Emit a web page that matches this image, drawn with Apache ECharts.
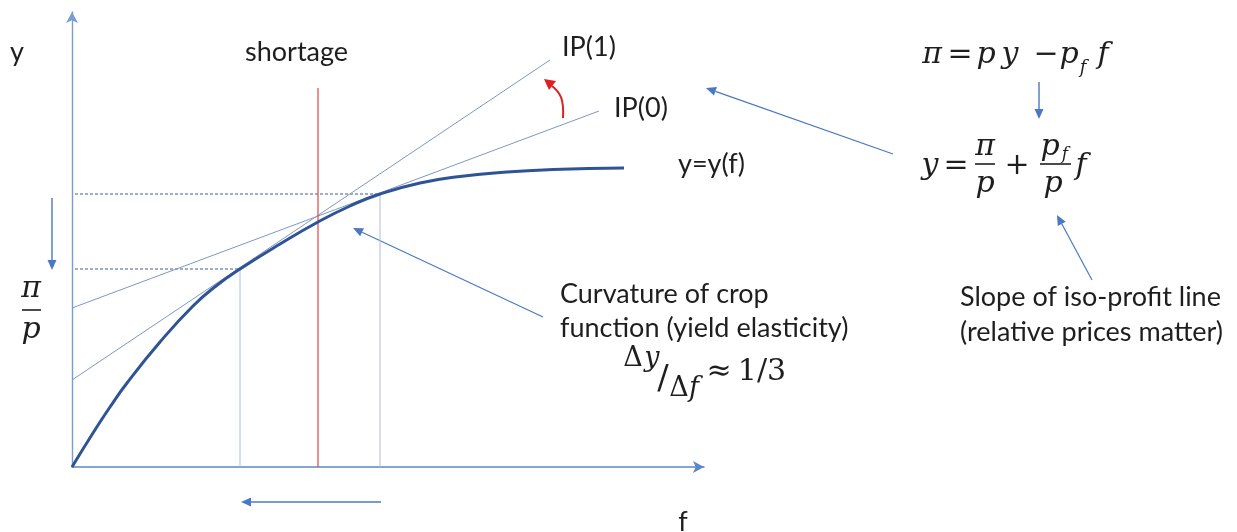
<!DOCTYPE html>
<html>
<head>
<meta charset="utf-8">
<title>Crop function and iso-profit lines</title>
<script src="https://cdn.jsdelivr.net/npm/echarts@6/dist/echarts.min.js"></script>
<style>
  html, body { margin: 0; padding: 0; background: #fff; }
  #chart { width: 1237px; height: 532px; }
</style>
</head>
<body>
<div id="chart"></div>
<script>
// crop function y = y(f) (f, y in axis units)
var curveF = [0, 21, 38, 55, 88, 121, 144, 168, 208, 246, 278, 308, 348, 388, 428, 481, 552];
var curveY = [0, 34, 60, 84, 125, 161, 181, 198, 223, 245, 261, 273, 284, 290.5, 294.5, 297.5, 299];

// iso-profit lines: [f, y] at both ends
var ip1 = [[0, 87], [478, 407]];
var ip0 = [[0, 159], [527, 356]];

// tangency points (IP(1), IP(0)) and the shortage line
var tangentF = [168, 308];
var tangentY = [198, 273];
var shortageF = 246;
var shortageTop = 379;

var axisMaxF = 632;
var axisMaxY = 455;

var chart = echarts.init(document.getElementById('chart'));

var curveData = curveF.map(function (f, i) { return [f, curveY[i]]; });

var blue = '#4a78c2';
var textColor = '#1e1e1e';
var sans = 'Lato';
var math = '"DejaVu Serif"';
var fs = 27;

function arrow(x1, y1, x2, y2, color, w, len, half) {
    len = len || 10; half = half || 4.5;
    var a = Math.atan2(y2 - y1, x2 - x1);
    var bx = x2 - len * Math.cos(a), by = y2 - len * Math.sin(a);
    var px = -Math.sin(a) * half, py = Math.cos(a) * half;
    return [
        { type: 'line', silent: true, shape: { x1: x1, y1: y1, x2: bx, y2: by }, style: { stroke: color, lineWidth: w } },
        { type: 'polygon', silent: true, shape: { points: [[x2, y2], [bx + px, by + py], [bx - px, by - py]] }, style: { fill: color } }
    ];
}

function label(text, x, y, size, align) {
    return { type: 'text', silent: true, x: x, y: y, style: {
        text: text, font: size + 'px ' + sans, fill: textColor,
        textAlign: align || 'left', textVerticalAlign: 'middle' } };
}

function m(text, x, y, size, upright) {
    return { type: 'text', silent: true, x: x, y: y, style: {
        text: text, font: (upright ? '' : 'italic ') + (size || 30) + 'px ' + math, fill: textColor,
        textAlign: 'center', textVerticalAlign: 'middle' } };
}

function bar(x1, x2, y) {
    return { type: 'line', silent: true, shape: { x1: x1, y1: y, x2: x2, y2: y }, style: { stroke: textColor, lineWidth: 1.6 } };
}

var graphics = [
    label('y', 17, 52, fs, 'center'),
    label('shortage', 245, 52, fs),
    label('IP(1)', 562, 47, fs),
    label('IP(0)', 614, 108, fs),
    label('y=y(f)', 678, 164, fs),
    label('Curvature of crop', 560, 294, fs),
    label('function (yield elasticity)', 560, 328, fs),
    label('Slope of iso-profit line', 960, 297, fs),
    label('(relative prices matter)', 960, 332, fs),
    label('f', 683, 522, fs, 'center'),

    // pi / p on the left
    m('π', 31, 289), bar(22, 41, 310), m('p', 31, 330),

    // pi = p y - p_f f
    m('π', 932, 55), m('=', 960, 55, 30, true), m('p', 986, 55), m('y', 1010, 55),
    m('−', 1046, 55, 30, true), m('p', 1069, 55), m('f', 1083, 68, 18), m('f', 1103, 55),

    // y = pi/p + p_f/p f
    m('y', 930, 166), m('=', 956, 166, 30, true),
    m('π', 985, 147), bar(975, 995, 164), m('p', 985, 184),
    m('+', 1017, 166, 30, true),
    m('p', 1050, 147), m('f', 1065, 155, 17), bar(1040, 1071, 164), m('p', 1053, 184),
    m('f', 1081, 166),

    // delta y / delta f ~ 1/3
    m('Δ', 633, 359, 27, true), m('y', 652, 359, 27),
    m('/', 663, 380, 34, true),
    m('Δ', 679, 389, 27, true), m('f', 694, 389, 27),
    m('≈', 719, 372, 30, true), m('1/3', 762, 372, 30, true),

    // red curved arrow (IP(0) -> IP(1))
    { type: 'bezierCurve', silent: true,
      shape: { x1: 563, y1: 118, cpx1: 564, cpy1: 100, cpx2: 561, cpy2: 93, x2: 552, y2: 86 },
      style: { stroke: '#e02020', lineWidth: 2, fill: null } },
    { type: 'polygon', silent: true,
      shape: { points: [[544, 79], [556, 81], [549, 90]] }, style: { fill: '#e02020' } }
];

graphics = graphics
    .concat(arrow(893, 154, 706, 88, blue, 1.2))
    .concat(arrow(543, 317, 353, 228, blue, 1.2))
    .concat(arrow(1092, 280, 1057, 215, blue, 1.2))
    .concat(arrow(1039, 82, 1039, 119, blue, 1.4))
    .concat(arrow(52, 198, 52, 270, blue, 1.4))
    .concat(arrow(381, 502, 241, 502, blue, 1.6));

function seg(data, color, width, type, z) {
    return { type: 'line', data: data, symbol: 'none', silent: true, z: z || 2,
             lineStyle: { color: color, width: width, type: type || 'solid' } };
}

var option = {
    animation: false,
    backgroundColor: '#ffffff',
    grid: { left: 72, top: 12, width: axisMaxF, height: axisMaxY },
    xAxis: {
        type: 'value', min: 0, max: axisMaxF,
        axisLine: { lineStyle: { color: '#5b87c8', width: 1.6 }, symbol: ['none', 'arrow'], symbolSize: [9, 11] },
        axisTick: { show: false }, axisLabel: { show: false }, splitLine: { show: false }
    },
    yAxis: {
        type: 'value', min: 0, max: axisMaxY,
        axisLine: { lineStyle: { color: '#7a9ccf', width: 1.4 }, symbol: ['none', 'arrow'], symbolSize: [9, 11] },
        axisTick: { show: false }, axisLabel: { show: false }, splitLine: { show: false }
    },
    series: [
        seg([[3, tangentY[1]], [tangentF[1], tangentY[1]]], '#3d5c9e', 1, [3, 2]),
        seg([[3, tangentY[0]], [tangentF[0], tangentY[0]]], '#3d5c9e', 1, [3, 2]),
        seg([[tangentF[0], 0], [tangentF[0], tangentY[0]]], '#a8bedf', 1),
        seg([[tangentF[1], 0], [tangentF[1], tangentY[1]]], '#a8bedf', 1),
        seg(ip1, '#8197c2', 1),
        seg(ip0, '#8197c2', 1),
        seg([[shortageF, 0], [shortageF, shortageTop]], '#de4646', 1.2, 'solid', 3),
        {
            type: 'line', data: curveData, smooth: 0.5, symbol: 'none', silent: true, z: 4,
            lineStyle: { color: '#2f5496', width: 3 }
        }
    ],
    graphic: graphics
};

chart.setOption(option);
</script>
</body>
</html>
